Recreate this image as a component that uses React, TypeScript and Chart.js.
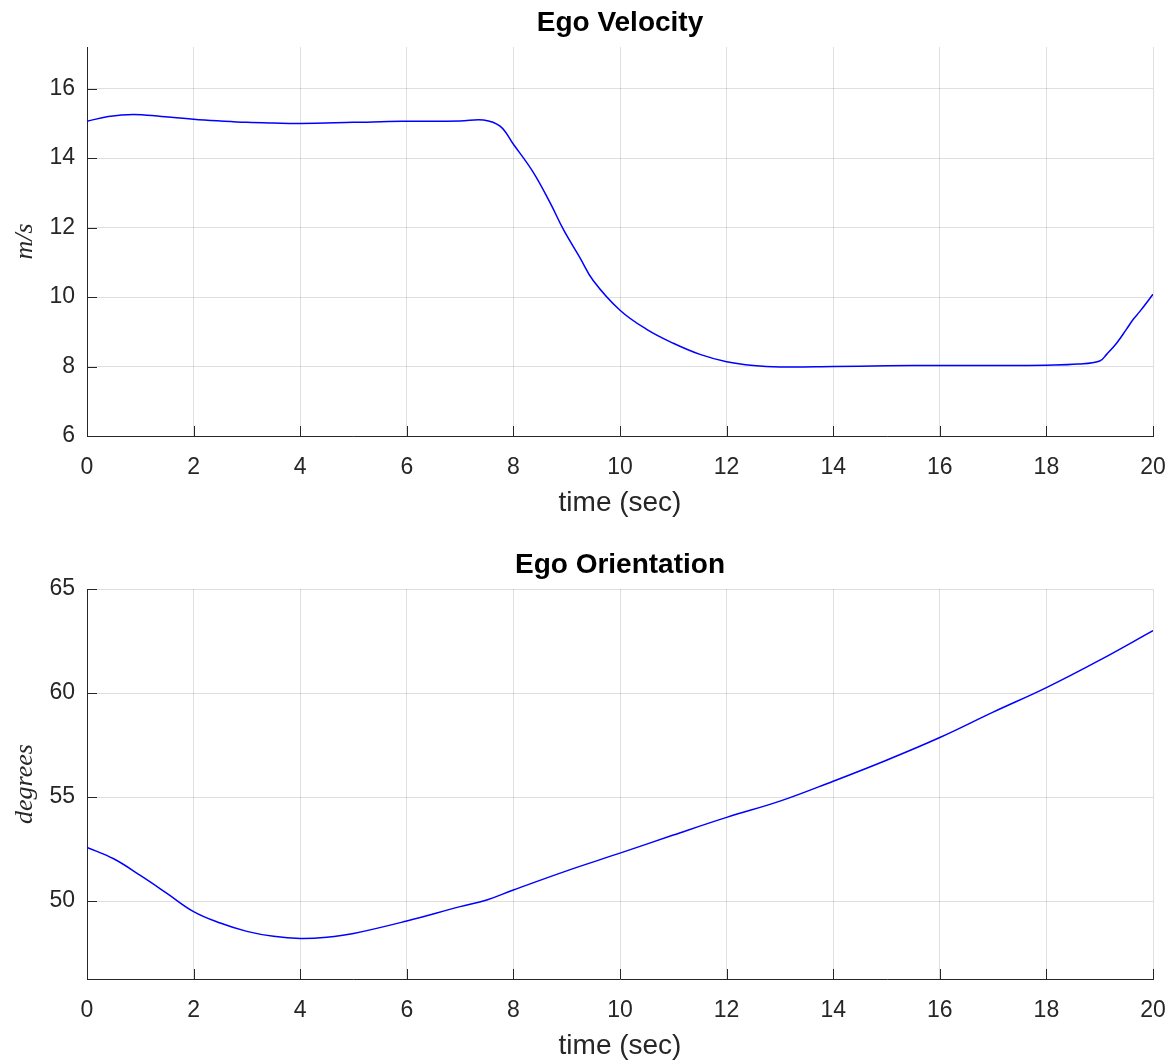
import React, { useEffect, useRef } from 'react';
import { Chart, registerables } from 'chart.js';

Chart.register(...registerables);

// ---- Data ----
const velocityTime = [0, 0.4, 0.87, 1.4, 2, 2.5, 3, 3.5, 4, 5, 5.9, 7, 7.44, 7.75, 8.0, 8.37, 8.69, 8.94, 9.25, 9.5, 10, 10.5, 11, 11.5, 12, 12.5, 13, 14, 15, 16, 17, 18, 18.6, 19.0, 19.13, 19.32, 19.5, 19.63, 19.75, 20];
const velocityValues = [15.06, 15.2, 15.26, 15.2, 15.12, 15.07, 15.03, 15.01, 15.0, 15.03, 15.06, 15.07, 15.1, 14.92, 14.4, 13.6, 12.71, 11.94, 11.13, 10.47, 9.62, 9.07, 8.67, 8.35, 8.14, 8.03, 7.99, 8.0, 8.02, 8.03, 8.03, 8.04, 8.07, 8.16, 8.35, 8.68, 9.07, 9.36, 9.58, 10.08];

const orientationTime = [0, 0.5, 1, 1.5, 2, 2.5, 3, 3.5, 4, 4.5, 5, 6, 7, 7.5, 8, 9, 10, 11, 12, 13, 14, 15, 16, 17, 18, 19, 20];
const orientationValues = [52.58, 52.03, 51.23, 50.37, 49.49, 48.94, 48.54, 48.3, 48.2, 48.26, 48.44, 49.04, 49.73, 50.05, 50.53, 51.45, 52.3, 53.17, 54.02, 54.8, 55.76, 56.77, 57.86, 59.08, 60.26, 61.58, 63.0];

const timeMin = 0;
const timeMax = 20;
const timeStep = 2;

const velocityAxis = { min: 6, max: 17.2, step: 2 };
const orientationAxis = { min: 46.25, max: 65, step: 5 };

const titles = ['Ego Velocity', 'Ego Orientation'];
const yLabels = ['m/s', 'degrees'];
const xLabel = 'time (sec)';

// ---- Styles ----
const FONT = "'Liberation Sans', Arial, Helvetica, sans-serif";
const SERIF = "'Liberation Serif', 'DejaVu Serif', serif";
const AXIS_COLOR = '#262626';
const GRID_COLOR = 'rgba(38,38,38,0.15)';

const innerTicks = {
  id: 'innerTicks',
  afterDraw(chart: any) {
    const { ctx, chartArea, scales } = chart;
    const len = 10;
    ctx.save();
    ctx.strokeStyle = AXIS_COLOR;
    ctx.lineWidth = 1;
    ctx.beginPath();
    scales.x.ticks.forEach((t: any) => {
      const px = Math.round(scales.x.getPixelForValue(t.value)) + 0.5;
      ctx.moveTo(px, chartArea.bottom);
      ctx.lineTo(px, chartArea.bottom - len);
    });
    scales.y.ticks.forEach((t: any) => {
      const py = Math.round(scales.y.getPixelForValue(t.value)) + 0.5;
      ctx.moveTo(chartArea.left, py);
      ctx.lineTo(chartArea.left + len, py);
    });
    ctx.stroke();
    ctx.restore();
  },
};

type PanelProps = {
  title: string;
  yLabel: string;
  time: number[];
  values: number[];
  axis: { min: number; max: number; step: number };
  top: number;
  height: number;
  bottomPad: number;
};

function Panel({ title, yLabel, time, values, axis, top, height, bottomPad }: PanelProps) {
  const ref = useRef<HTMLCanvasElement | null>(null);

  useEffect(() => {
    if (!ref.current) return;
    const chart = new Chart(ref.current, {
      type: 'line',
      data: {
        datasets: [
          {
            data: time.map((t, i) => ({ x: t, y: values[i] })),
            borderColor: '#0000ff',
            borderWidth: 1.5,
            pointRadius: 0,
            tension: 0.4,
            fill: false,
          },
        ],
      },
      options: {
        responsive: false,
        animation: false,
        devicePixelRatio: 1,
        layout: { padding: { left: 0, right: 18, top: 0, bottom: bottomPad } },
        plugins: {
          legend: { display: false },
          tooltip: { enabled: false },
          title: { display: false },
        },
        scales: {
          // Top axis used only to carry the panel title, centred over the plot area
          xTop: {
            type: 'linear',
            position: 'top',
            axis: 'x',
            min: timeMin,
            max: timeMax,
            afterFit: (s: any) => {
              s.height = 47;
              s.paddingLeft = 0;
              s.paddingRight = 0;
            },
            ticks: { display: false },
            grid: { display: false, drawTicks: false },
            border: { display: false },
            title: {
              display: true,
              text: title,
              color: '#000000',
              font: { family: FONT, size: 28, weight: 'bold', lineHeight: 1 },
              padding: { top: 9, bottom: 0 },
            },
          },
          x: {
            type: 'linear',
            min: timeMin,
            max: timeMax,
            afterFit: (s: any) => {
              s.height = 81;
              s.paddingLeft = 0;
              s.paddingRight = 0;
            },
            ticks: {
              stepSize: timeStep,
              color: AXIS_COLOR,
              font: { family: FONT, size: 23 },
              padding: 18,
              maxRotation: 0,
              autoSkip: false,
            },
            grid: { color: GRID_COLOR, drawTicks: false, lineWidth: 1 },
            border: { display: true, color: AXIS_COLOR, width: 1 },
            title: {
              display: true,
              text: xLabel,
              color: AXIS_COLOR,
              font: { family: FONT, size: 28, lineHeight: 1 },
              padding: { top: 0, bottom: 0 },
            },
          },
          y: {
            type: 'linear',
            min: axis.min,
            max: axis.max,
            afterFit: (s: any) => {
              s.width = 87;
            },
            ticks: {
              stepSize: axis.step,
              includeBounds: false,
              color: AXIS_COLOR,
              font: { family: FONT, size: 23 },
              padding: 12,
            },
            grid: { color: GRID_COLOR, drawTicks: false, lineWidth: 1 },
            border: { display: true, color: AXIS_COLOR, width: 1 },
            title: {
              display: true,
              text: yLabel,
              color: AXIS_COLOR,
              font: { family: SERIF, size: 26, style: 'italic', lineHeight: 1 },
              padding: { top: 12, bottom: 0 },
            },
          },
        },
      } as any,
      plugins: [innerTicks],
    });
    return () => chart.destroy();
  }, []);

  return (
    <canvas
      ref={ref}
      width={1171}
      height={height}
      style={{ position: 'absolute', left: 0, top, width: 1171, height }}
    />
  );
}

export default function App() {
  return (
    <div style={{ position: 'absolute', left: 0, top: 0, width: 1171, height: 1060, background: '#ffffff' }}>
      <Panel
        title={titles[0]}
        yLabel={yLabels[0]}
        time={velocityTime}
        values={velocityValues}
        axis={velocityAxis}
        top={0}
        height={542}
        bottomPad={25}
      />
      <Panel
        title={titles[1]}
        yLabel={yLabels[1]}
        time={orientationTime}
        values={orientationValues}
        axis={orientationAxis}
        top={542}
        height={518}
        bottomPad={0}
      />
    </div>
  );
}
